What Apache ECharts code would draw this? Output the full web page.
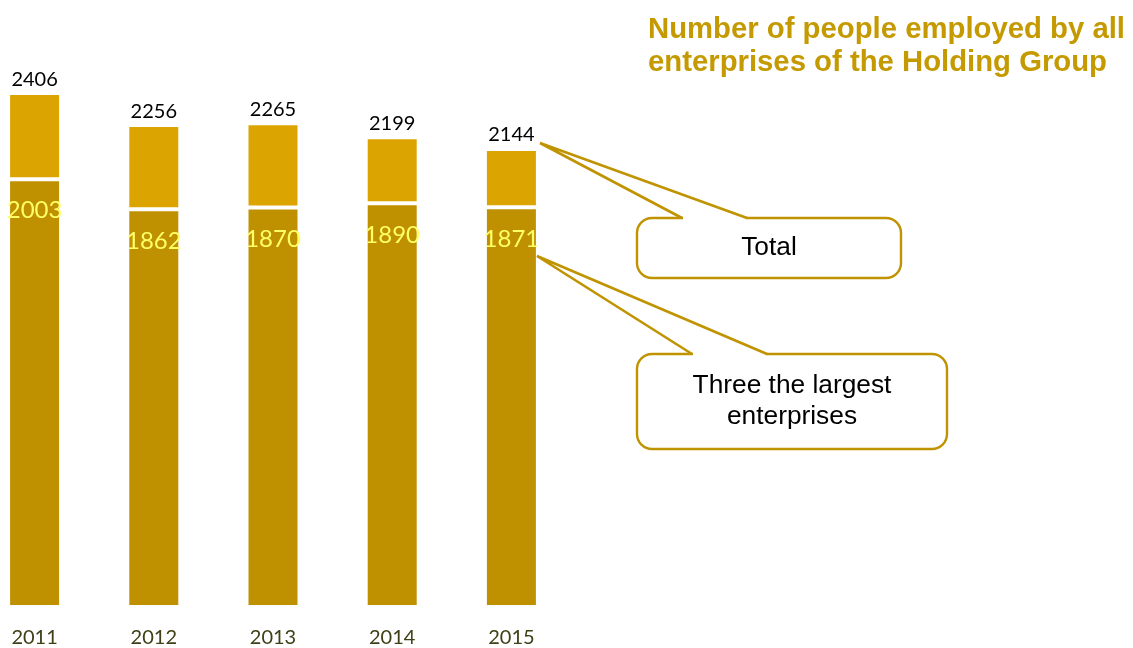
<!DOCTYPE html>
<html>
<head>
<meta charset="utf-8">
<script src="https://cdn.jsdelivr.net/npm/echarts@6/dist/echarts.min.js"></script>
<style>
  html, body { margin: 0; padding: 0; background: #ffffff; overflow: hidden; }
  /* the plot starts a little left of the page edge, so the canvas is shifted */
  #chart { width: 1158px; height: 648px; margin-left: -25px; }
</style>
</head>
<body>
<div id="chart"></div>
<script>
// Staff headcount per year
const years = ['2011', '2012', '2013', '2014', '2015'];
const totalStaff = [2406, 2256, 2265, 2199, 2144];
const largestThreeStaff = [2003, 1862, 1870, 1890, 1871];

// Remainder stacked on top so the column reaches the total
const otherStaff = totalStaff.map((t, i) => t - largestThreeStaff[i]);

const GOLD_DARK = '#BF9000';
const GOLD_LIGHT = '#DCA400';
const LINE_GOLD = '#C09300';
const SHIFT = 25; // canvas offset relative to the page

const chart = echarts.init(document.getElementById('chart'), null, { renderer: 'canvas' });

// Callout box with a pointed tail drawn from two lines
function callout(box, tail, text, lineHeight) {
  const r = 15;
  return [
    {
      type: 'rect',
      shape: { x: box.x, y: box.y, width: box.w, height: box.h, r: r },
      style: { fill: '#ffffff', stroke: LINE_GOLD, lineWidth: 2.4 },
      z: 10
    },
    {
      type: 'line',
      shape: { x1: tail.left + 1, y1: box.y, x2: tail.right - 1, y2: box.y },
      style: { stroke: '#ffffff', lineWidth: 4 },
      z: 11
    },
    {
      type: 'polyline',
      shape: { points: [[tail.left, box.y], tail.tip, [tail.right, box.y]] },
      style: { stroke: LINE_GOLD, lineWidth: 2.6, fill: null, lineJoin: 'miter' },
      z: 12
    },
    {
      type: 'text',
      style: {
        x: box.x + box.w / 2,
        y: box.y + box.h / 2,
        text: text,
        fill: '#000000',
        font: '26.3px "Liberation Sans", Arial, sans-serif',
        align: 'center',
        verticalAlign: 'middle',
        lineHeight: lineHeight
      },
      z: 13
    }
  ];
}

const option = {
  backgroundColor: '#ffffff',
  animation: false,
  grid: { left: 0, width: 596, top: 73, bottom: 41, containLabel: false },
  xAxis: {
    type: 'category',
    data: years,
    axisLine: { show: false },
    axisTick: { show: false },
    axisLabel: {
      color: '#404018',
      fontFamily: 'Lato, "Open Sans", sans-serif',
      fontSize: 20,
      margin: 21
    }
  },
  yAxis: {
    type: 'value',
    min: 0,
    max: 2500,
    show: false,
    splitLine: { show: false }
  },
  series: [
    {
      name: 'Three the largest enterprises',
      type: 'bar',
      stack: 'staff',
      barWidth: 53,
      data: largestThreeStaff,
      itemStyle: { color: GOLD_DARK, borderColor: '#ffffff', borderWidth: 2 },
      label: {
        show: true,
        position: 'insideTop',
        distance: 19.5,
        color: '#FFFF66',
        fontFamily: 'Lato, "Open Sans", sans-serif',
        fontSize: 24
      }
    },
    {
      name: 'Total',
      type: 'bar',
      stack: 'staff',
      barWidth: 53,
      data: otherStaff,
      itemStyle: { color: GOLD_LIGHT, borderColor: '#ffffff', borderWidth: 2 },
      label: {
        show: true,
        position: 'top',
        distance: 4,
        color: '#000000',
        fontFamily: 'Lato, "Open Sans", sans-serif',
        fontSize: 20,
        formatter: p => String(totalStaff[p.dataIndex])
      }
    }
  ],
  graphic: [
    {
      type: 'group',
      x: SHIFT,
      y: 0,
      children: [
        {
          type: 'text',
          x: 648,
          y: 13,
          style: {
            text: 'Number of people employed by all\nenterprises of the Holding Group',
            fill: '#C49A00',
            font: 'bold 29.3px "Liberation Sans", Arial, sans-serif',
            lineHeight: 33,
            verticalAlign: 'top'
          }
        },
        ...callout(
          { x: 637, y: 218, w: 264, h: 60 },
          { left: 682, right: 747, tip: [540, 143] },
          'Total', 30
        ),
        ...callout(
          { x: 637, y: 354, w: 310, h: 95 },
          { left: 692, right: 767, tip: [537, 256] },
          'Three the largest\nenterprises', 31
        )
      ]
    }
  ]
};

chart.setOption(option);
</script>
</body>
</html>
